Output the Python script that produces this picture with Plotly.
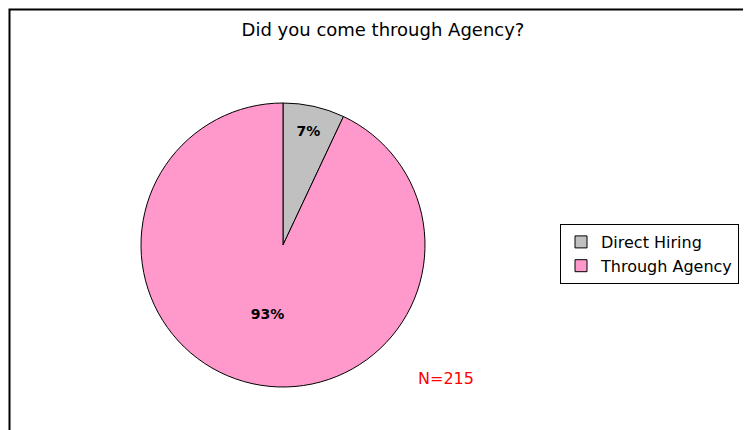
import plotly.graph_objects as go

categories = ["Direct Hiring", "Through Agency"]
values = [7, 93]
colors = ["#C0C0C0", "#FF99CC"]
title_text = "Did you come through Agency?"
note_text = "N=215"

# page body has an 8px margin; figure sized to fit the 751x430 window
W, H = 743, 422
OFF = 8
font_family = "DejaVu Sans, Verdana, sans-serif"

cx, cy, r = 283 - OFF, 245 - OFF, 142

fig = go.Figure(go.Pie(
    labels=categories,
    values=values,
    sort=False,
    direction="clockwise",
    rotation=0,
    marker=dict(colors=colors, line=dict(color="black", width=1)),
    texttemplate="<b>%{value}%</b>",
    textposition="inside",
    insidetextorientation="horizontal",
    textfont=dict(family=font_family, size=14, color="black"),
    domain=dict(x=[(cx - r) / W, (cx + r) / W],
                y=[(H - cy - r) / H, (H - cy + r) / H]),
    hoverinfo="label+percent",
))

fig.update_layout(
    width=W, height=H,
    margin=dict(l=0, r=0, t=0, b=0),
    paper_bgcolor="white",
    title=dict(text=title_text, x=(383 - OFF) / W, xanchor="center",
               y=1 - (30 - OFF) / H, yanchor="middle",
               font=dict(family=font_family, size=18, color="black")),
    showlegend=True,
    legend=dict(x=(560 - OFF) / W, xanchor="left", y=1 - (254 - OFF) / H, yanchor="middle",
                bgcolor="white", bordercolor="black", borderwidth=1,
                font=dict(family=font_family, size=16, color="black"),
                tracegroupgap=0),
    shapes=[
        dict(type="rect", xref="paper", yref="paper",
             x0=1.5 / W, x1=1.02, y0=-0.02, y1=1 - 1.5 / H,
             line=dict(color="black", width=2), fillcolor="rgba(0,0,0,0)"),
    ],
    annotations=[
        dict(text=note_text, xref="paper", yref="paper",
             x=(446 - OFF) / W, y=1 - (378 - OFF) / H,
             xanchor="center", yanchor="middle", showarrow=False,
             font=dict(family=font_family, size=16, color="red")),
    ],
)

fig.write_html("out.html")
